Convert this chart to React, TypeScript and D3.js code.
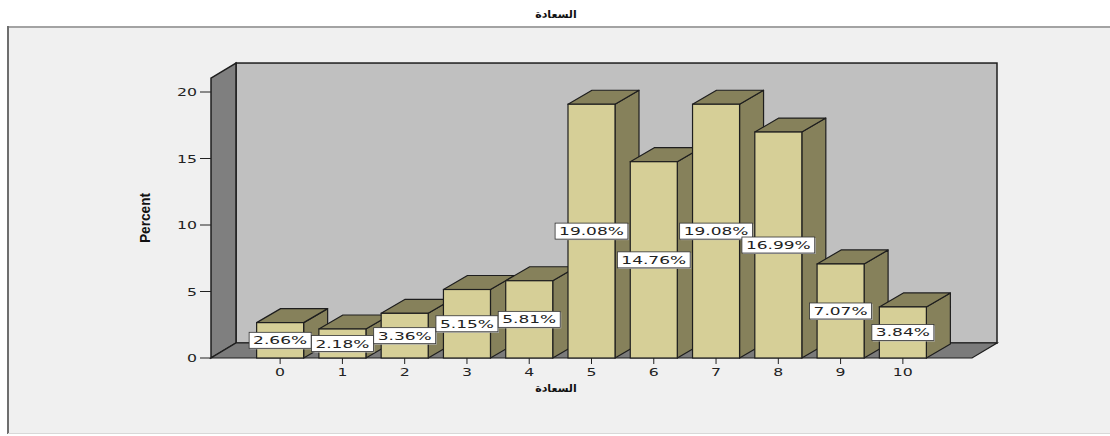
import React from "react";
import * as d3 from "d3";

const categories = ["0", "1", "2", "3", "4", "5", "6", "7", "8", "9", "10"];
const percents = [2.66, 2.18, 3.36, 5.15, 5.81, 19.08, 14.76, 19.08, 16.99, 7.07, 3.84];
const valueLabels = ["2.66%", "2.18%", "3.36%", "5.15%", "5.81%", "19.08%", "14.76%", "19.08%", "16.99%", "7.07%", "3.84%"];
const yTicks = [0, 5, 10, 15, 20];
const chartTitle = "السعادة";
const xTitle = "السعادة";
const yTitle = "Percent";

const W = 1110;
const H = 436;

export default function App() {
  const y = d3.scaleLinear().domain([0, 20]).range([358, 92]);
  const x = d3
    .scaleBand<string>()
    .domain(categories)
    .range([249, 934])
    .paddingInner(0.245)
    .paddingOuter(0.1225);

  const wallTop = y(21.05);
  const wdx = 25;
  const wdy = -15;
  const bdx = 24;
  const bdy = -14;
  const floorY = y(0);
  const leftX = 211;
  const rightX = 972;

  const front = "#d6cf97";
  const shade = "#86815b";
  const edge = "#1e1e1e";
  const charW = 10.8;

  const pts = (a: number[][]) => a.map((p) => p.join(",")).join(" ");

  return (
    <svg
      width={W}
      height={H}
      style={{ position: "absolute", left: 0, top: 0, display: "block" }}
      fontFamily="'DejaVu Sans', sans-serif"
    >
      <rect x={0} y={0} width={W} height={H} fill="#ffffff" />
      <rect x={8} y={27} width={W} height={406} fill="#f0f0f0" />
      <line x1={8} y1={27} x2={W} y2={27} stroke="#a3a3a3" strokeWidth={2} />
      <line x1={8} y1={26} x2={8} y2={434} stroke="#6e6e6e" strokeWidth={2} />
      <line x1={8} y1={433.5} x2={W} y2={433.5} stroke="#d8d8d8" strokeWidth={1} />

      <text x={556} y={18} textAnchor="middle" fontSize={11} fontWeight="bold" fill="#111">
        {chartTitle}
      </text>

      {/* back wall */}
      <rect
        x={leftX + wdx}
        y={wallTop + wdy}
        width={rightX - leftX}
        height={floorY - wallTop}
        fill="#c0c0c0"
        stroke={edge}
        strokeWidth={1.5}
      />
      {/* left wall */}
      <polygon
        points={pts([
          [leftX, wallTop],
          [leftX + wdx, wallTop + wdy],
          [leftX + wdx, floorY + wdy],
          [leftX, floorY],
        ])}
        fill="#7f7f7f"
        stroke={edge}
        strokeWidth={1.5}
      />
      {/* floor */}
      <polygon
        points={pts([
          [leftX, floorY],
          [leftX + wdx, floorY + wdy],
          [rightX + wdx, floorY + wdy],
          [rightX, floorY],
        ])}
        fill="#7b7b7b"
        stroke={edge}
        strokeWidth={1.2}
      />

      {/* y ticks */}
      {yTicks.map((t) => (
        <g key={t}>
          <line x1={200} x2={leftX} y1={y(t)} y2={y(t)} stroke="#222" strokeWidth={1} />
          <text
            x={197}
            y={y(t) + 4}
            textAnchor="end"
            fontSize={10}
            fill="#222"
            textLength={String(t).length * 10}
            lengthAdjust="spacingAndGlyphs"
          >
            {t}
          </text>
        </g>
      ))}

      <text
        transform={`translate(150, 218) rotate(-90)`}
        textAnchor="middle"
        fontSize={14}
        fontWeight="bold"
        fontFamily="'Liberation Sans Narrow', 'Liberation Sans', sans-serif"
        fill="#111"
        textLength={50}
        lengthAdjust="spacingAndGlyphs"
      >
        {yTitle}
      </text>

      {/* bars */}
      {categories.map((c, i) => {
        const x0 = x(c)!;
        const x1 = x0 + x.bandwidth();
        const yt = y(percents[i]);
        const y0 = y(0);
        return (
          <g key={c}>
            <polygon
              points={pts([
                [x1, yt],
                [x1 + bdx, yt + bdy],
                [x1 + bdx, y0 + bdy],
                [x1, y0],
              ])}
              fill={shade}
              stroke={edge}
              strokeWidth={1.2}
              strokeLinejoin="round"
            />
            <polygon
              points={pts([
                [x0, yt],
                [x0 + bdx, yt + bdy],
                [x1 + bdx, yt + bdy],
                [x1, yt],
              ])}
              fill={shade}
              stroke={edge}
              strokeWidth={1.2}
              strokeLinejoin="round"
            />
            <rect
              x={x0}
              y={yt}
              width={x1 - x0}
              height={y0 - yt}
              fill={front}
              stroke={edge}
              strokeWidth={1.2}
            />
          </g>
        );
      })}

      {/* x ticks and labels */}
      {categories.map((c) => {
        const cx = x(c)! + x.bandwidth() / 2;
        return (
          <g key={"t" + c}>
            <line x1={cx} x2={cx} y1={floorY} y2={floorY + 6} stroke="#222" strokeWidth={1} />
            <text
              x={cx}
              y={376}
              textAnchor="middle"
              fontSize={10}
              fill="#222"
              textLength={c.length * 10}
              lengthAdjust="spacingAndGlyphs"
            >
              {c}
            </text>
          </g>
        );
      })}

      <text x={556} y={392} textAnchor="middle" fontSize={11} fontWeight="bold" fill="#111">
        {xTitle}
      </text>

      {/* value labels */}
      {categories.map((c, i) => {
        const cx = x(c)! + x.bandwidth() / 2;
        const cy = (y(percents[i]) + y(0)) / 2;
        const tl = valueLabels[i].length * charW;
        const bw = tl + 8;
        return (
          <g key={"l" + c}>
            <rect x={cx - bw / 2 + 1} y={cy - 7} width={bw} height={16} fill="#b8b8b8" />
            <rect
              x={cx - bw / 2}
              y={cy - 8}
              width={bw}
              height={16}
              fill="#ffffff"
              stroke="#333"
              strokeWidth={0.8}
            />
            <text
              x={cx}
              y={cy + 4}
              textAnchor="middle"
              fontSize={11}
              fill="#222"
              textLength={tl}
              lengthAdjust="spacingAndGlyphs"
            >
              {valueLabels[i]}
            </text>
          </g>
        );
      })}
    </svg>
  );
}
